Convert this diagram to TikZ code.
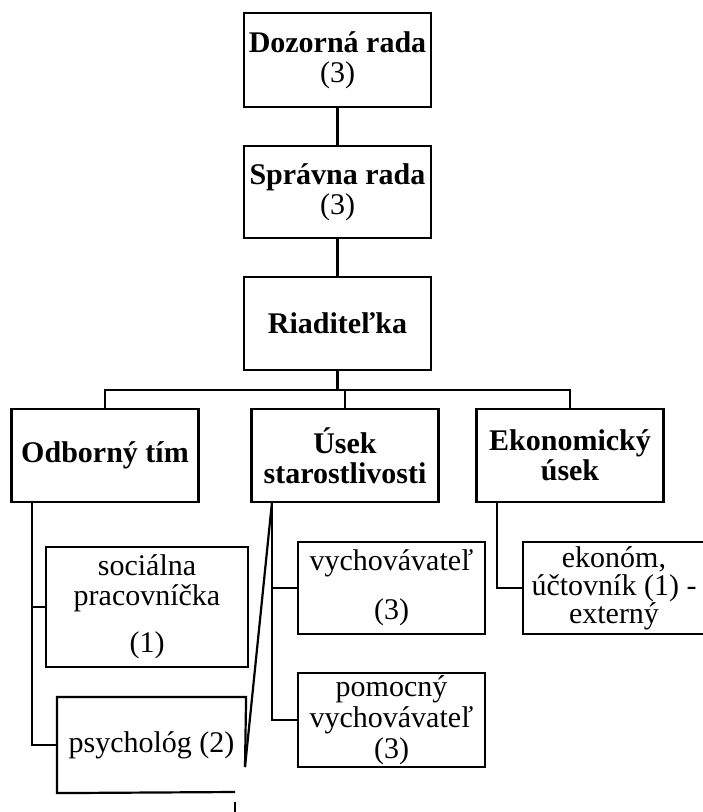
\documentclass[tikz,border=0pt]{standalone}
\usepackage{fontspec}
\setmainfont{Liberation Serif}
\usepackage{tikz}
\usetikzlibrary{positioning}

\tikzset{
    orgbox/.style={draw, line width=2.2pt, inner sep=0pt, align=center, font=\fontsize{30}{30}\selectfont},
    headbox/.style={orgbox, minimum width=187pt, minimum height=93pt, font=\fontsize{30}{30}\selectfont\bfseries},
    conn/.style={line width=2.2pt}
}

\begin{document}
\begin{tikzpicture}[x=1pt, y=-1pt]
        \useasboundingbox (0,0) rectangle (703,812);

        % upper levels
        \node[headbox, minimum height=94pt] (doz) at (337.5,60) {Dozorná rada\\\mdseries (3)};
        \node[headbox, minimum height=92pt] (spr) at (337.5,192) {Správna rada\\\mdseries (3)};
        \node[headbox] (riad) at (337.5,323.5) {Riaditeľka};

        % sections
        \node[headbox] (odb) at (105,455.5) {Odborný tím};
        \node[headbox] (usek) at (345,455.5) {Úsek\\starostlivosti};
        \node[headbox] (ekon) at (570,455.5) {Ekonomický\\úsek};

        % staff
        \node[orgbox, minimum width=202pt, minimum height=120pt] (soc) at (147,607) {sociálna\\pracovníčka\\[17pt](1)};
        \node[orgbox, draw=none, minimum width=187pt, minimum height=94pt] (psy) at (151.5,745) {psychológ (2)};
        \node[orgbox, minimum width=187pt, minimum height=92pt] (vych) at (391.5,588) {vychovávateľ\\[19pt](3)};
        \node[orgbox, minimum width=187pt, minimum height=94pt, font=\fontsize{30}{31}\selectfont] (pom) at (391.5,720) {pomocný\\vychovávateľ\\(3)};
        \node[orgbox, minimum width=182pt, minimum height=92pt, font=\fontsize{30}{28}\selectfont] (ekm) at (614,588) {ekonóm,\\účtovník (1) -\\externý};

        % psycholog box is open at its lower right corner
        \coordinate (psyR) at (245,767);
        \draw[conn] (psyR) -- (psy.north east) -- (psy.north west) -- (psy.south west) -- (235,792);

        % connectors
        \coordinate (bus) at (337.5,390);
        \coordinate (odbL) at (32,502);
        \coordinate (usL) at (272,502);
        \coordinate (ekL) at (497,502);

        \draw[conn] (doz) -- (spr);
        \draw[conn] (spr) -- (riad);
        \draw[conn] (riad.south) -- (bus);
        \draw[conn] (odb.north) |- (bus) -| (ekon.north);
        \draw[conn] (usek.north) -- (usek.north |- bus);

        \draw[conn] (odbL) |- (soc.west);
        \draw[conn] (odbL) |- (psy.west);
        \draw[conn] (usL) |- (vych.west);
        \draw[conn] (usL) |- (pom.west);
        \draw[conn] (usL) -- (psyR);
        \draw[conn] (ekL) |- (ekm.west);
        \draw[conn] (235,802) -- (235,812);
\end{tikzpicture}
\end{document}
